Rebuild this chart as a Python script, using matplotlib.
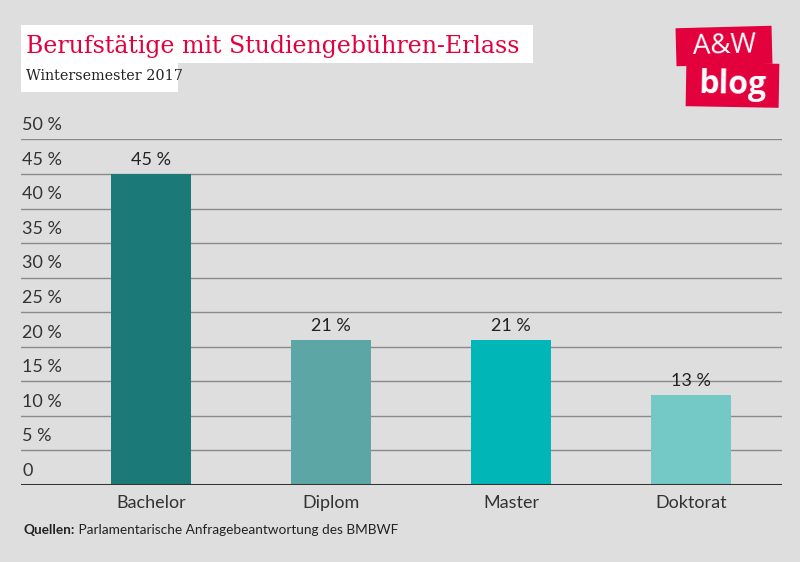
import matplotlib
matplotlib.use("Agg")
import matplotlib.pyplot as plt
from matplotlib.patches import Rectangle
import matplotlib.transforms as mtransforms

categories = ["Bachelor", "Diplom", "Master", "Doktorat"]
values = [45, 21, 21, 13]
value_labels = ["45 %", "21 %", "21 %", "13 %"]
bar_colors = ["#1b7a78", "#5ca7a6", "#00b6b6", "#74c8c6"]
yticks = [0, 5, 10, 15, 20, 25, 30, 35, 40, 45, 50]
ytick_labels = ["0", "5 %", "10 %", "15 %", "20 %", "25 %", "30 %", "35 %", "40 %", "45 %", "50 %"]

title = "Berufstätige mit Studiengebühren-Erlass"
subtitle = "Wintersemester 2017"
source_bold = "Quellen:"
source_text = " Parlamentarische Anfragebeantwortung des BMBWF"

BG = "#dedede"
RED = "#e2003d"
TXT = "#222222"
SANS = ["Lato", "DejaVu Sans"]
SERIF = ["DejaVu Serif"]

W, H = 800, 562
fig = plt.figure(figsize=(W / 100, H / 100), dpi=100, facecolor=BG)

def fx(px):
    return px / W

def fy(py):
    return 1 - py / H

# axes: x from 21 to 782 px, y from 0% at 485px to 50% at ~139.5px
ax_left, ax_right = 21, 782
y0, y50 = 485, 139.4
ax = fig.add_axes([fx(ax_left), fy(y0), (ax_right - ax_left) / W, (y0 - y50) / H])
ax.set_facecolor(BG)
ax.set_ylim(0, 50)
xpos = list(range(len(categories)))
ax.set_xlim((ax_left - 151) / 180, (ax_right - 151) / 180)
ax.bar(xpos, values, width=80 / 180, color=bar_colors, zorder=3)

for s in ax.spines.values():
    s.set_visible(False)
ax.set_yticks([])
ax.set_xticks(xpos)
ax.set_xticklabels(categories, fontsize=13, color="#333333", family=SANS)
ax.tick_params(axis="x", length=0, pad=7)

# gridlines and y labels (labels sit above lines, left-aligned)
for t, lab in zip(yticks, ytick_labels):
    if t == 0:
        ax.axhline(t, color="#333333", lw=2.2, zorder=4)
    else:
        ax.axhline(t, color="#8a8a8a", lw=1.0, zorder=1)
    ax.text(0.0015, t + 0.9, lab, transform=ax.get_yaxis_transform(),
            ha="left", va="bottom", fontsize=13, color="#333333", family=SANS)

for x, v, lab in zip(xpos, values, value_labels):
    ax.text(x, v + 0.9, lab, ha="center", va="bottom", fontsize=13,
            color=TXT, family=SANS, zorder=5)

# title boxes
fig.patches.append(Rectangle((fx(21), fy(63)), (533 - 21) / W, 38 / H,
                             transform=fig.transFigure, facecolor="white",
                             edgecolor="none", zorder=0))
fig.patches.append(Rectangle((fx(21), fy(92)), (178 - 21) / W, 29 / H,
                             transform=fig.transFigure, facecolor="white",
                             edgecolor="none", zorder=0))
fig.text(fx(26), fy(46), title, ha="left", va="center", fontsize=17,
         color=RED, family=SERIF)
fig.text(fx(26), fy(76), subtitle, ha="left", va="center", fontsize=10.4,
         color=TXT, family=SERIF)

# logo
def logo_box(x0, y0_, x1, y1, angle, text, fs, weight):
    cx, cy = fx((x0 + x1) / 2), fy((y0_ + y1) / 2)
    tr = mtransforms.Affine2D().rotate_deg_around(cx * W, cy * H, angle)
    r = Rectangle((fx(x0) * W, fy(y1) * H), (x1 - x0), (y1 - y0_),
                  facecolor=RED, edgecolor="none",
                  transform=tr + mtransforms.IdentityTransform(), zorder=1)
    fig.patches.append(r)
    fig.text(cx, cy, text, ha="center", va="center", fontsize=fs,
             color="white", weight=weight, family=["Open Sans", "DejaVu Sans"],
             rotation=angle, zorder=2)

logo_box(676, 27, 772, 65, 1.5, "A&W", 20, "normal")
logo_box(686, 63, 779, 107, -1.0, "blog", 23, "bold")

# source
t1 = fig.text(fx(24), fy(530), source_bold, ha="left", va="center",
              fontsize=9.8, color=TXT, weight="bold", family=SANS)
fig.canvas.draw()
bb = t1.get_window_extent()
fig.text(bb.x1 / W, fy(530), source_text, ha="left", va="center",
         fontsize=9.8, color=TXT, family=SANS)

fig.savefig("out.png", dpi=100, facecolor=BG)
